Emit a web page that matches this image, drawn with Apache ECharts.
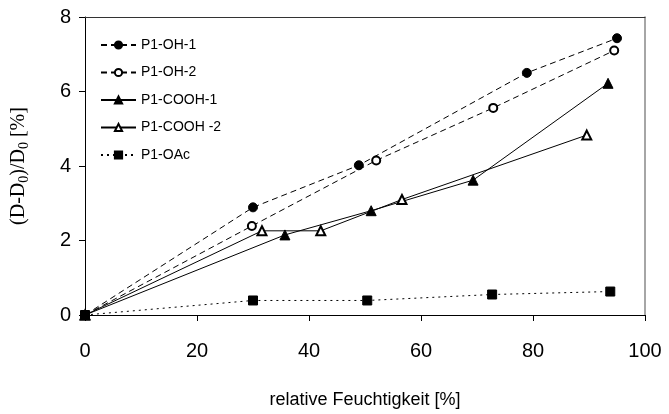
<!DOCTYPE html>
<html>
<head>
<meta charset="utf-8">
<script src="https://cdn.jsdelivr.net/npm/echarts@6/dist/echarts.min.js"></script>
<style>html,body{margin:0;padding:0;background:#fff}#c{width:669px;height:414px}</style>
</head>
<body>
<div id="c"></div>
<script>
const seriesNames = ['P1-OH-1', 'P1-OH-2', 'P1-COOH-1', 'P1-COOH -2', 'P1-OAc'];
const oh1 = [[0, 0], [30, 2.89], [48.9, 4.02], [78.9, 6.5], [95, 7.43]];
const oh2 = [[0, 0], [29.8, 2.39], [52, 4.15], [72.9, 5.56], [94.5, 7.1]];
const cooh1 = [[0, 0], [35.7, 2.15], [51.1, 2.8], [69.3, 3.62], [93.4, 6.22]];
const cooh2 = [[0, 0], [31.6, 2.26], [42.1, 2.26], [56.6, 3.1], [89.6, 4.83]];
const oac = [[0, 0], [30, 0.39], [50.4, 0.39], [72.7, 0.55], [93.8, 0.63]];
const xTicks = [0, 20, 40, 60, 80, 100];
const yTicks = [0, 2, 4, 6, 8];

const chart = echarts.init(document.getElementById('c'));
function s(name, data, symbol, size, type) {
  return {
    name, type: 'line', data, symbol, symbolSize: size,
    itemStyle: { color: '#000', borderColor: '#000', borderWidth: 1 },
    lineStyle: { color: '#000', width: 1, type: type },
    animation: false
  };
}
chart.setOption({
  animation: false,
  grid: { left: 85, right: 24, top: 17, bottom: 91 },
  legend: {
    orient: 'vertical', left: 95, top: 33,
    itemWidth: 35, itemHeight: 9, itemGap: 13.5,
    textStyle: { fontFamily: 'Liberation Sans', fontSize: 14, color: '#000' },
    data: seriesNames
  },
  xAxis: [{
    type: 'value', min: xTicks[0], max: xTicks[xTicks.length - 1], interval: 20,
    splitLine: { show: false },
    axisLine: { lineStyle: { color: '#000', width: 1 } },
    axisTick: { show: true, length: 6, lineStyle: { color: '#000' } },
    axisLabel: { fontFamily: 'Liberation Sans', fontSize: 20, color: '#000', margin: 26 },
    name: 'relative Feuchtigkeit [%]', nameLocation: 'middle', nameGap: 76,
    nameTextStyle: { fontFamily: 'Liberation Sans', fontSize: 18, color: '#000' }
  }, {
    type: 'value', position: 'top', min: 0, max: 100,
    axisLine: { show: true, onZero: false, lineStyle: { color: '#333' } },
    axisTick: { show: false }, axisLabel: { show: false }, splitLine: { show: false }
  }],
  yAxis: [{
    type: 'value', min: yTicks[0], max: yTicks[yTicks.length - 1], interval: 2,
    splitLine: { show: false },
    axisLine: { show: true, lineStyle: { color: '#000', width: 1 } },
    axisTick: { show: true, length: 6, lineStyle: { color: '#000' } },
    axisLabel: { fontFamily: 'Liberation Sans', fontSize: 20, color: '#000', margin: 14 },
    name: '{n|(D-D}{s|0}{n|)/D}{s|0}{n| [%]}', nameLocation: 'middle', nameGap: 54,
    nameTextStyle: {
      fontFamily: 'Liberation Serif', fontSize: 20, color: '#000',
      rich: {
        n: { fontFamily: 'Liberation Serif', fontSize: 20, color: '#000', lineHeight: 24, verticalAlign: 'middle' },
        s: { fontFamily: 'Liberation Serif', fontSize: 14, color: '#000', lineHeight: 24, verticalAlign: 'bottom', padding: [8, 0, 0, 0] }
      }
    }
  }, {
    type: 'value', position: 'right', min: 0, max: 8,
    axisLine: { show: true, onZero: false, lineStyle: { color: '#888', width: 1.5 } },
    axisTick: { show: false }, axisLabel: { show: false }, splitLine: { show: false }
  }],
  series: [
    s(seriesNames[0], oh1, 'circle', 9, [6, 4]),
    s(seriesNames[1], oh2, 'emptyCircle', 8, [6, 4]),
    s(seriesNames[2], cooh1, 'triangle', 10, 'solid'),
    s(seriesNames[3], cooh2, 'emptyTriangle', 9, 'solid'),
    s(seriesNames[4], oac, 'rect', 9, [2, 4])
  ]
});
</script>
</body>
</html>
